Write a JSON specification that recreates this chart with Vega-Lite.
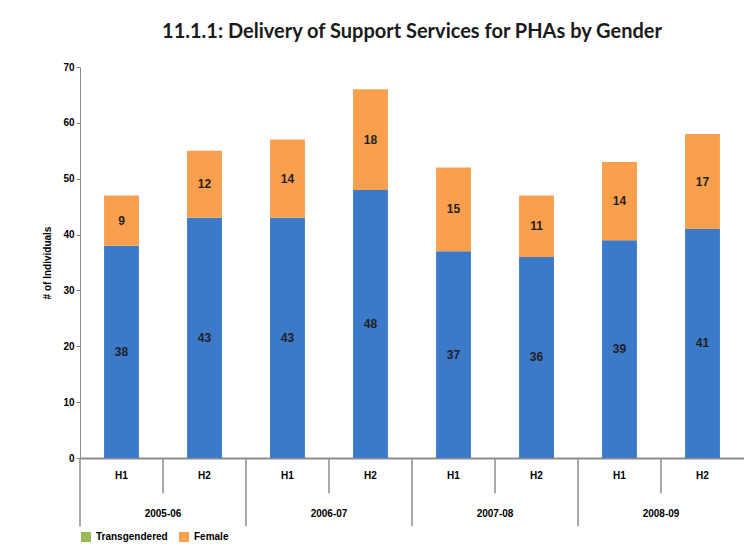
{
  "$schema": "https://vega.github.io/schema/vega-lite/v6.json",
  "width": 664,
  "height": 391,
  "padding": {"left": 42, "top": 22, "right": 0, "bottom": 0},
  "title": {
    "text": "11.1.1: Delivery of Support Services for PHAs by Gender",
    "fontSize": 20,
    "font": "Lato",
    "color": "#1a1a1a",
    "offset": 20
  },
  "config": {"view": {"stroke": null}},
  "data": {
    "values": [
      {"period": "2005-06 H1", "year": "2005-06", "half": "H1", "gender": "Male", "count": 38},
      {"period": "2005-06 H1", "year": "2005-06", "half": "H1", "gender": "Female", "count": 9},
      {"period": "2005-06 H2", "year": "2005-06", "half": "H2", "gender": "Male", "count": 43},
      {"period": "2005-06 H2", "year": "2005-06", "half": "H2", "gender": "Female", "count": 12},
      {"period": "2006-07 H1", "year": "2006-07", "half": "H1", "gender": "Male", "count": 43},
      {"period": "2006-07 H1", "year": "2006-07", "half": "H1", "gender": "Female", "count": 14},
      {"period": "2006-07 H2", "year": "2006-07", "half": "H2", "gender": "Male", "count": 48},
      {"period": "2006-07 H2", "year": "2006-07", "half": "H2", "gender": "Female", "count": 18},
      {"period": "2007-08 H1", "year": "2007-08", "half": "H1", "gender": "Male", "count": 37},
      {"period": "2007-08 H1", "year": "2007-08", "half": "H1", "gender": "Female", "count": 15},
      {"period": "2007-08 H2", "year": "2007-08", "half": "H2", "gender": "Male", "count": 36},
      {"period": "2007-08 H2", "year": "2007-08", "half": "H2", "gender": "Female", "count": 11},
      {"period": "2008-09 H1", "year": "2008-09", "half": "H1", "gender": "Male", "count": 39},
      {"period": "2008-09 H1", "year": "2008-09", "half": "H1", "gender": "Female", "count": 14},
      {"period": "2008-09 H2", "year": "2008-09", "half": "H2", "gender": "Male", "count": 41},
      {"period": "2008-09 H2", "year": "2008-09", "half": "H2", "gender": "Female", "count": 17}
    ]
  },
  "transform": [
    {"stack": "count", "groupby": ["period"], "sort": [{"field": "gender", "order": "descending"}], "as": ["y0", "y1"]}
  ],
  "encoding": {
    "x": {
      "field": "period",
      "type": "nominal",
      "title": null,
      "scale": {"paddingInner": 0, "paddingOuter": 0},
      "axis": {
        "labelAngle": 0,
        "labelExpr": "slice(datum.value, -2)",
        "ticks": false,
        "labelPadding": 12,
        "labelFontSize": 10,
        "labelFontWeight": "bold",
        "labelColor": "#000000",
        "domainColor": "#8c8c8c",
        "domainWidth": 2
      }
    }
  },
  "layer": [
    {
      "mark": {"type": "bar", "width": {"band": 0.42}},
      "encoding": {
        "y": {
          "field": "y0",
          "type": "quantitative",
          "title": "# of Individuals",
          "scale": {"domain": [0, 70]},
          "axis": {
            "grid": false,
            "tickCount": 7,
            "tickSize": 4,
            "tickColor": "#8c8c8c",
            "domainColor": "#8c8c8c",
            "labelFontSize": 10,
            "labelFontWeight": "bold",
            "labelColor": "#000000",
            "titleFontSize": 10,
            "titleColor": "#000000",
            "titlePadding": 10
          }
        },
        "y2": {"field": "y1"},
        "color": {
          "field": "gender",
          "type": "nominal",
          "scale": {"domain": ["Male", "Transgendered", "Female"], "range": ["#3b79c9", "#9bbb59", "#f9a04e"]},
          "legend": {"title": null, "orient": "bottom", "offset": 51, "values": ["Transgendered", "Female"], "symbolType": "square", "labelFontWeight": "bold", "labelColor": "#000000"}
        }
      }
    },
    {
      "transform": [
        {"fold": ["y0", "y1"]},
        {"aggregate": [{"op": "mean", "field": "value", "as": "mid"}], "groupby": ["period", "gender", "count"]}
      ],
      "mark": {"type": "text", "fontWeight": "bold", "fontSize": 12, "color": "#1f1f1f"},
      "encoding": {
        "y": {"field": "mid", "type": "quantitative", "title": "# of Individuals"},
        "text": {"field": "count", "type": "quantitative"}
      }
    },
    {
      "transform": [{"filter": "datum.half === 'H2' && datum.gender === 'Male'"}],
      "mark": {"type": "text", "fontWeight": "bold", "fontSize": 10, "color": "#000000"},
      "encoding": {
        "x": {"field": "period", "type": "nominal", "bandPosition": 0},
        "y": {"datum": -10},
        "text": {"field": "year", "type": "nominal"}
      }
    },
    {
      "transform": [{"filter": "datum.half === 'H2' && datum.gender === 'Male'"}],
      "mark": {"type": "rule", "color": "#8c8c8c", "strokeWidth": 1.5},
      "encoding": {
        "x": {"field": "period", "type": "nominal", "bandPosition": 0},
        "y": {"datum": 0},
        "y2": {"datum": -6.3}
      }
    },
    {
      "transform": [{"filter": "datum.half === 'H1' && datum.gender === 'Male'"}],
      "mark": {"type": "rule", "color": "#8c8c8c", "strokeWidth": 1.5},
      "encoding": {
        "x": {"field": "period", "type": "nominal", "bandPosition": 0},
        "y": {"datum": 0},
        "y2": {"datum": -12.2}
      }
    }
  ]
}
